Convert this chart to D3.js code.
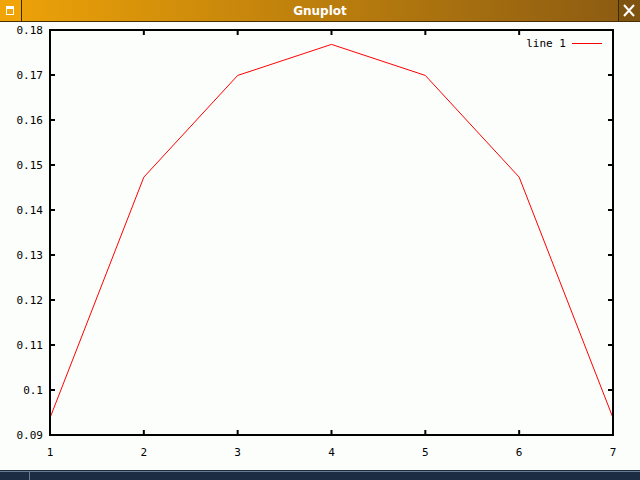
<!DOCTYPE html>
<html><head><meta charset="utf-8">
<script src="https://cdn.jsdelivr.net/npm/d3@7"></script>
<style>html,body{margin:0;padding:0;background:#fcfefc;overflow:hidden}</style>
</head><body>
<script>
const xValues = [1, 2, 3, 4, 5, 6, 7];
const yValues = [0.0938, 0.1473, 0.1699, 0.1768, 0.1699, 0.1473, 0.0938];
const xTicks = [1, 2, 3, 4, 5, 6, 7];
const yTicks = [0.09, 0.1, 0.11, 0.12, 0.13, 0.14, 0.15, 0.16, 0.17, 0.18];
const windowTitle = "Gnuplot";
const seriesName = "line 1";

const W = 640, H = 480;
const svg = d3.select("body").append("svg").attr("width", W).attr("height", H);
svg.append("rect").attr("width", W).attr("height", H).attr("fill", "#fcfefc");

// title bar
const defs = svg.append("defs");
const g1 = defs.append("linearGradient").attr("id", "tb").attr("x1", "0").attr("x2", "1");
g1.append("stop").attr("offset", "0").attr("stop-color", "#eea308");
g1.append("stop").attr("offset", "1").attr("stop-color", "#8a5a12");
svg.append("rect").attr("x", 0).attr("y", 0).attr("width", W).attr("height", 21).attr("fill", "url(#tb)");
svg.append("rect").attr("x", 0).attr("y", 0).attr("width", 21).attr("height", 21).attr("fill", "#f0a408");
svg.append("line").attr("x1", 21.5).attr("x2", 21.5).attr("y1", 0).attr("y2", 21).attr("stroke", "#3a2a00");
svg.append("rect").attr("x", 6.5).attr("y", 6.5).attr("width", 7).attr("height", 8).attr("fill", "none").attr("stroke", "#fff");
svg.append("line").attr("x1", 6.5).attr("x2", 13.5).attr("y1", 8).attr("y2", 8).attr("stroke", "#fff").attr("stroke-width", 2);
svg.append("rect").attr("x", 619).attr("y", 0).attr("width", 21).attr("height", 21).attr("fill", "#7e5410");
svg.append("line").attr("x1", 618.5).attr("x2", 618.5).attr("y1", 0).attr("y2", 21).attr("stroke", "#3a2a00");
svg.append("path").attr("d", "M624,5L634,16M634,5L624,16").attr("stroke", "#fff").attr("stroke-width", 2);
svg.append("line").attr("x1", 0).attr("x2", W).attr("y1", 21.5).attr("y2", 21.5).attr("stroke", "#4a3000");
svg.append("text").attr("x", 320).attr("y", 15).attr("text-anchor", "middle")
  .attr("font-family", "DejaVu Sans").attr("font-weight", "bold").attr("font-size", 12)
  .attr("fill", "#fff").text(windowTitle);

// bottom taskbar
svg.append("rect").attr("x", 0).attr("y", 470).attr("width", W).attr("height", 10).attr("fill", "#1c2c42");
svg.append("line").attr("x1", 0).attr("x2", W).attr("y1", 471.5).attr("y2", 471.5).attr("stroke", "#6a7a90");
svg.append("line").attr("x1", 29.5).attr("x2", 29.5).attr("y1", 472).attr("y2", 480).attr("stroke", "#6a7a90");

// plot
const L = 50, R = 613, T = 30, B = 435;
const x = d3.scaleLinear().domain([1, 7]).range([L, R]);
const y = d3.scaleLinear().domain([0.09, 0.18]).range([B, T]);
const font = "DejaVu Sans Mono";

const g = svg.append("g");
g.selectAll(".xt").data(xTicks).enter().append("text")
  .attr("x", d => x(d)).attr("y", 456).attr("text-anchor", "middle")
  .attr("font-family", font).attr("font-size", 11).attr("fill", "#000").text(d => d);
g.selectAll(".yt").data(yTicks).enter().append("text")
  .attr("x", 43).attr("y", d => y(d) + 4).attr("text-anchor", "end")
  .attr("font-family", font).attr("font-size", 11).attr("fill", "#000").text(d => d3.format("")(+d.toFixed(2)));

// ticks (inward, mirrored)
const tk = 5;
g.selectAll(".xtk").data(xTicks).enter().append("path")
  .attr("d", d => `M${x(d)},${B}v${-tk}M${x(d)},${T}v${tk}`).attr("stroke", "#000").attr("stroke-width", 2);
g.selectAll(".ytk").data(yTicks).enter().append("path")
  .attr("d", d => `M${L},${y(d)}h${tk}M${R},${y(d)}h${-tk}`).attr("stroke", "#000").attr("stroke-width", 2);

// line
g.append("path").datum(xValues.map((v, i) => [v, yValues[i]]))
  .attr("d", d3.line().x(d => x(d[0])).y(d => y(d[1])))
  .attr("fill", "none").attr("stroke", "#f00").attr("stroke-width", 1);

// frame
g.append("rect").attr("x", L).attr("y", T).attr("width", R - L).attr("height", B - T)
  .attr("fill", "none").attr("stroke", "#000").attr("stroke-width", 2);

// legend
g.append("text").attr("x", 566).attr("y", 47).attr("text-anchor", "end")
  .attr("font-family", font).attr("font-size", 11).attr("fill", "#000").text(seriesName);
g.append("line").attr("x1", 572).attr("x2", 602).attr("y1", 43.5).attr("y2", 43.5).attr("stroke", "#f00");
</script>
</body></html>
